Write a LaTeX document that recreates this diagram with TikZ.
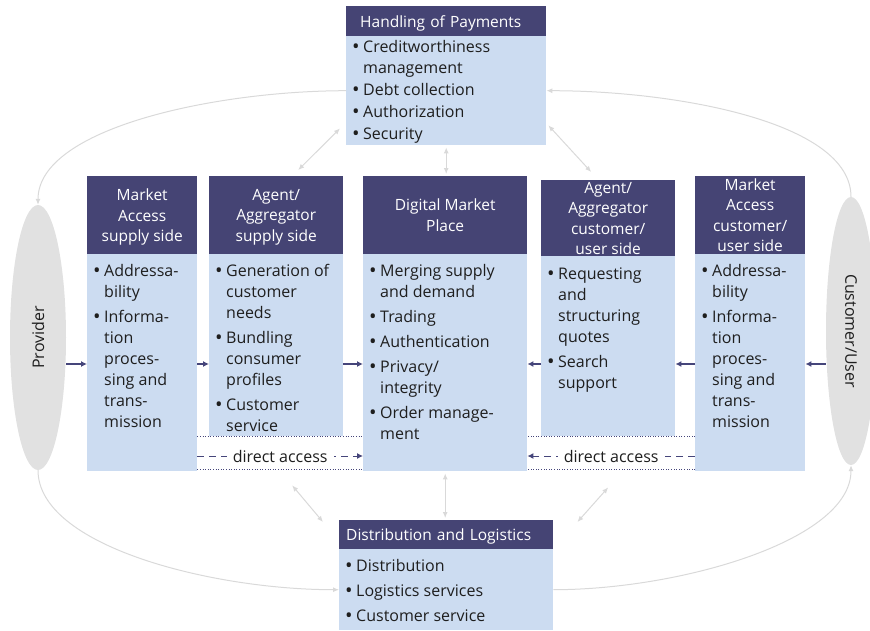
\documentclass[tikz,border=0pt]{standalone}
\usepackage{fontspec}
\setmainfont{Open Sans}
\usepackage{graphicx}
\usetikzlibrary{shapes.geometric,arrows.meta}

\definecolor{headcol}{HTML}{454474}
\definecolor{bodycol}{HTML}{CCDCF1}
\definecolor{ovalcol}{HTML}{E1E1E1}
\definecolor{linkcol}{HTML}{D9D9D9}
\definecolor{flowcol}{HTML}{45457A}
\definecolor{txtcol}{HTML}{1E1E1E}

\newlength{\bulw}
\setlength{\bulw}{11pt}
\newcommand{\itm}[1]{\hangindent=\bulw\hangafter=1\noindent\strut\makebox[\bulw][l]{\raisebox{-0.8pt}{\scalebox{1.25}{\textbullet}}}#1\par}
% height, width, item gap, top gap, items
\newcommand{\bodytext}[5]{\parbox[t][#1][t]{#2}{\raggedright\setlength{\parskip}{#3}\vspace*{#4}#5}}

\begin{document}
\begin{tikzpicture}[x=1pt, y=1pt,
    head/.style={fill=headcol, text=white, align=center, anchor=north west, inner sep=0pt, text depth=0pt, font=\fontsize{15.5}{20.5}\selectfont},
    body/.style={fill=bodycol, text=txtcol, anchor=north west, inner xsep=6pt, inner ysep=0pt, font=\fontsize{16}{21}\selectfont},
    oval/.style={ellipse, fill=ovalcol, inner sep=0pt, text=txtcol, font=\fontsize{16}{18}\selectfont},
    flow/.style={draw=flowcol, line width=1.2pt, -{Latex[length=6pt,width=6pt]}},
    direct/.style={draw=flowcol, line width=1pt, dash pattern=on 7pt off 5pt, -{Latex[length=6pt,width=6pt]}},
    chan/.style={draw=flowcol, line width=0.6pt, dotted},
    link/.style={draw=linkcol, line width=1pt, {Latex[length=6pt,width=5pt]}-{Latex[length=6pt,width=5pt]}},
    loop/.style={draw=linkcol, line width=1pt, -{Latex[length=6pt,width=5pt]}}]
  \useasboundingbox (0,0) rectangle (870,-630);

  % payments on top
  \node[head, minimum width=200, minimum height=30, align=left, text width=172, inner xsep=14pt] (payH) at (346,-6) {Handling of Payments};
  \node[body] (payB) at (346,-36) {\bodytext{109pt}{188pt}{1pt}{0.3pt}{\itm{Creditworthiness\newline management}\itm{Debt collection}\itm{Authorization}\itm{Security}}};

  % supply side
  \node[head, minimum width=110, minimum height=78, text depth=-5pt] (maSH) at (87,-176) {Market\\Access\\supply side};
  \node[body] (maSB) at (87,-254) {\bodytext{217pt}{98pt}{4pt}{3.3pt}{\itm{Addressa-\newline bility}\itm{Informa-\newline tion\newline proces-\newline sing and\newline trans-\newline mission}}};
  \node[head, minimum width=134, minimum height=78, text depth=-5pt] (agSH) at (209,-176) {Agent/\\Aggregator\\supply side};
  \node[body] (agSB) at (209,-254) {\bodytext{182pt}{122pt}{4pt}{3.3pt}{\itm{Generation of\newline customer\newline needs}\itm{Bundling\newline consumer\newline profiles}\itm{Customer\newline service}}};

  % market place
  \node[head, minimum width=164, minimum height=78] (dmpH) at (363,-176) {Digital Market\\Place};
  \node[body] (dmpB) at (363,-254) {\bodytext{217pt}{152pt}{4pt}{3.3pt}{\itm{Merging supply\newline and demand}\itm{Trading}\itm{Authentication}\itm{Privacy/\newline integrity}\itm{Order manage-\newline ment}}};

  % customer side
  \node[head, minimum width=134, minimum height=76] (agCH) at (541,-180) {Agent/\\Aggregator\\customer/\\user side};
  \node[body] (agCB) at (541,-256) {\bodytext{180pt}{122pt}{4pt}{4.3pt}{\itm{Requesting\newline and\newline structuring\newline quotes}\itm{Search\newline support}}};
  \node[head, minimum width=110, minimum height=78] (maCH) at (695,-176) {Market\\Access\\customer/\\user side};
  \node[body] (maCB) at (695,-254) {\bodytext{217pt}{98pt}{4pt}{3.3pt}{\itm{Addressa-\newline bility}\itm{Informa-\newline tion\newline proces-\newline sing and\newline trans-\newline mission}}};

  % logistics at the bottom
  \node[head, minimum width=214, minimum height=29, align=left, text width=200, inner xsep=7pt] (disH) at (339,-520) {Distribution and Logistics};
  \node[body] (disB) at (339,-549) {\bodytext{81pt}{202pt}{4pt}{3.3pt}{\itm{Distribution}\itm{Logistics services}\itm{Customer service}}};

  % the two ends
  \node[oval, minimum width=56, minimum height=265] (prov) at (38,-337.5) {\rotatebox{90}{Provider}};
  \node[oval, minimum width=50, minimum height=268] (cust) at (851,-331) {\rotatebox{-90}{Customer/User}};

  % flows into the market place
  \coordinate (fl) at (0,-364);
  \draw[flow] (prov.east |- fl) -- (maSB.west |- fl);
  \draw[flow] (maSB.east |- fl) -- (agSB.west |- fl);
  \draw[flow] (agSB.east |- fl) -- (dmpB.west |- fl);
  \draw[flow] (cust.west |- fl) -- (maCB.east |- fl);
  \draw[flow] (maCB.west |- fl) -- (agCB.east |- fl);
  \draw[flow] (agCB.west |- fl) -- (dmpB.east |- fl);

  % direct access past the agents
  \coordinate (da) at (0,-456);
  \coordinate (ch) at (0,-469);
  \draw[direct] (maSB.east |- da) -- node[fill=white, text=txtcol, inner xsep=6pt, font=\fontsize{16}{18}\selectfont] {direct access} (dmpB.west |- da);
  \draw[direct] (maCB.west |- da) -- node[fill=white, text=txtcol, inner xsep=6pt, font=\fontsize{16}{18}\selectfont] {direct access} (dmpB.east |- da);
  \draw[chan] (agSB.south west -| maSB.east) -- (agSB.south east -| dmpB.west);
  \draw[chan] (maSB.east |- ch) -- (dmpB.west |- ch);
  \draw[chan] (agCB.south east -| maCB.west) -- (agCB.south west -| dmpB.east);
  \draw[chan] (maCB.west |- ch) -- (dmpB.east |- ch);

  % links to payments and logistics
  \draw[link] ([xshift=-6pt,yshift=17pt]payB.south west) -- ([xshift=22pt,yshift=6pt]agSH.north);
  \draw[link] ([yshift=-2pt]payB.south) -- ([yshift=2pt]payB.south |- dmpH.north);
  \draw[link] ([xshift=2pt,yshift=20pt]payB.south east) -- ([xshift=-17pt,yshift=8pt]agCH.north);
  \draw[link] ([xshift=16pt,yshift=-49pt]agSB.south) -- ([xshift=-16pt,yshift=-2pt]disH.north west);
  \draw[link] ([yshift=-2pt]dmpB.south) -- ([yshift=2pt]dmpB.south |- disH.north);
  \draw[link] ([yshift=-51pt]agCB.south) -- ([xshift=24pt,yshift=-2pt]disH.north east);

  % outer loop
  \draw[loop] (payB.west) to[out=180, in=90, in looseness=0.6] (prov.north);
  \draw[loop] (cust.north) to[out=90, in=0, out looseness=0.6] (payB.east);
  \draw[loop] (prov.south) to[out=-90, in=180, out looseness=0.6] (disB.west);
  \draw[loop] (disB.east) to[out=0, in=-90, in looseness=0.6] (cust.south);
\end{tikzpicture}
\end{document}
